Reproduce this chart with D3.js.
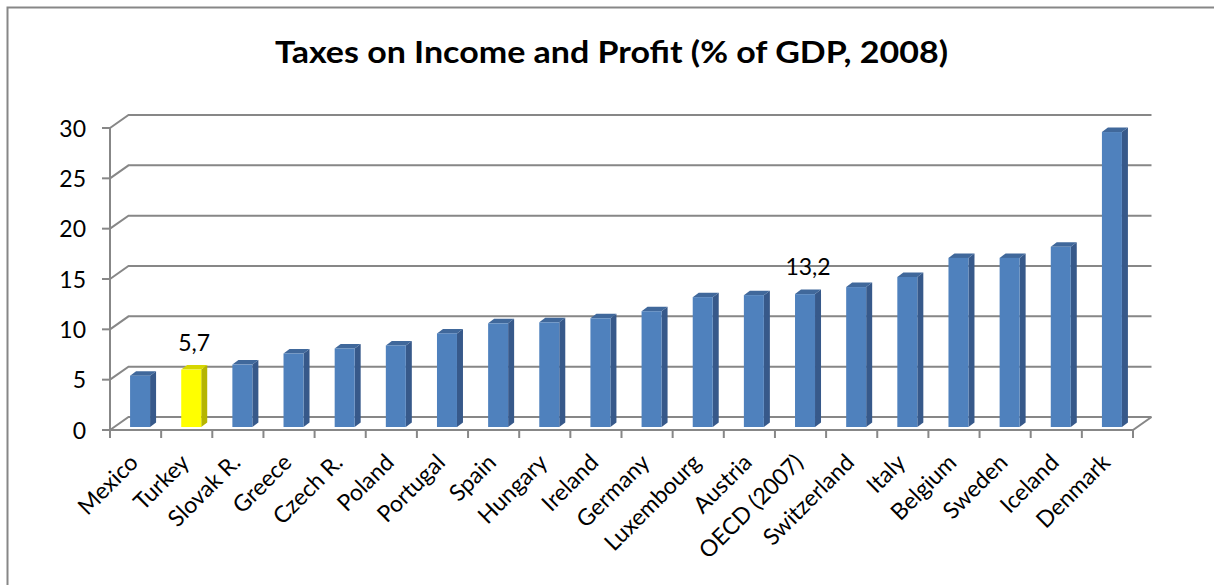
<!DOCTYPE html>
<html>
<head>
<meta charset="utf-8">
<script src="https://cdn.jsdelivr.net/npm/d3@7"></script>
<style>
  html, body { margin: 0; padding: 0; background: #fff; }
  svg { display: block; }
  text { font-family: Lato, "Open Sans", sans-serif; fill: #000; }
</style>
</head>
<body>
<svg id="chart" width="1214" height="585"></svg>
<script>
// Taxes on income and profit, % of GDP (2008)
const countries = ["Mexico", "Turkey", "Slovak R.", "Greece", "Czech R.", "Poland", "Portugal",
  "Spain", "Hungary", "Ireland", "Germany", "Luxembourg", "Austria", "OECD (2007)",
  "Switzerland", "Italy", "Belgium", "Sweden", "Iceland", "Denmark"];
const values = [5.1, 5.7, 6.2, 7.3, 7.8, 8.1, 9.3, 10.3, 10.4, 10.8, 11.5, 12.9, 13.1, 13.2,
  13.9, 14.9, 16.8, 16.8, 17.9, 29.3];
const highlighted = ["Turkey"];
const labelled = ["Turkey", "OECD (2007)"];
const yTicks = [0, 5, 10, 15, 20, 25, 30];
const title = "Taxes on Income and Profit (% of GDP, 2008)";

const svg = d3.select("#chart");

// outer chart frame
svg.append("rect")
  .attr("x", 7.5).attr("y", 7.5).attr("width", 1300).attr("height", 700)
  .attr("fill", "none").attr("stroke", "#878787").attr("stroke-width", 2);

// title
svg.append("text")
  .attr("x", 611.5).attr("y", 63)
  .attr("text-anchor", "middle")
  .attr("font-size", 31).attr("font-weight", 700)
  .attr("textLength", 673).attr("lengthAdjust", "spacingAndGlyphs")
  .text(title);

// plot geometry: front plane and oblique depth of the 3-D box
const left = 110, right = 1133;
const depthX = 18.5, depthY = -13;
const x = d3.scaleBand().domain(countries).range([left, right]).padding(0);
const y = d3.scaleLinear().domain([0, 30]).range([430, 128]);

const gridColor = "#878787";
const fontSize = 23;

// back wall gridlines and side wall diagonals
const grid = svg.append("g").attr("stroke", gridColor).attr("stroke-width", 2).attr("fill", "none");
yTicks.forEach(t => {
  grid.append("path").attr("d",
    `M${left},${y(t)} L${left + depthX},${y(t) + depthY} L${right + depthX},${y(t) + depthY}`);
});
// floor: front edge and right edge
grid.append("path").attr("d",
  `M${left},${y(0)} L${right},${y(0)} L${right + depthX},${y(0) + depthY}`);

// bars
const barW = 20, barDX = 6, barDY = -4.5;
const barShiftX = 4.5, barShiftY = -3;
const bars = svg.append("g");
countries.forEach((c, i) => {
  const v = values[i];
  const hi = highlighted.includes(c);
  const face = hi ? "#FFFF00" : "#4F81BD";
  const side = hi ? "#B5B500" : "#37598A";
  const top = hi ? "#D6D600" : "#40689B";
  const x0 = x(c) + x.bandwidth() / 2 - barW / 2 + barShiftX;
  const yTop = y(v) + barShiftY;
  const yBot = y(0) + barShiftY;
  const g = bars.append("g");
  g.append("path").attr("fill", side).attr("d",
    `M${x0 + barW},${yTop} L${x0 + barW + barDX},${yTop + barDY} L${x0 + barW + barDX},${yBot + barDY} L${x0 + barW},${yBot} Z`);
  g.append("path").attr("fill", top).attr("d",
    `M${x0},${yTop} L${x0 + barDX},${yTop + barDY} L${x0 + barW + barDX},${yTop + barDY} L${x0 + barW},${yTop} Z`);
  g.append("rect").attr("x", x0).attr("y", yTop).attr("width", barW).attr("height", yBot - yTop)
    .attr("fill", face);
  if (labelled.includes(c)) {
    g.append("text")
      .attr("x", x0 + (barW + barDX) / 2).attr("y", yTop - 19)
      .attr("text-anchor", "middle").attr("font-size", fontSize)
      .text(d3.format(".1f")(v).replace(".", ","));
  }
});

// value axis (front left edge)
const axis = svg.append("g").attr("stroke", gridColor).attr("stroke-width", 2);
axis.append("line").attr("x1", left).attr("x2", left).attr("y1", y(0)).attr("y2", y(30));
yTicks.forEach(t => {
  axis.append("line").attr("x1", left - 8).attr("x2", left).attr("y1", y(t)).attr("y2", y(t));
});
svg.append("g").selectAll("text").data(yTicks).join("text")
  .attr("x", 86).attr("y", d => y(d) + 8.5)
  .attr("text-anchor", "end").attr("font-size", fontSize)
  .text(d => d);

// category axis ticks at band boundaries
const boundaries = countries.map(c => x(c)).concat([right]);
boundaries.forEach(b => {
  axis.append("line").attr("x1", b).attr("x2", b).attr("y1", y(0)).attr("y2", y(0) + 8);
});

// rotated category labels
svg.append("g").selectAll("text").data(countries).join("text")
  .attr("transform", c => `translate(${x(c) + x.bandwidth() / 2 + 4},${464}) rotate(-45)`)
  .attr("text-anchor", "end").attr("font-size", fontSize)
  .text(c => c);
</script>
</body>
</html>
